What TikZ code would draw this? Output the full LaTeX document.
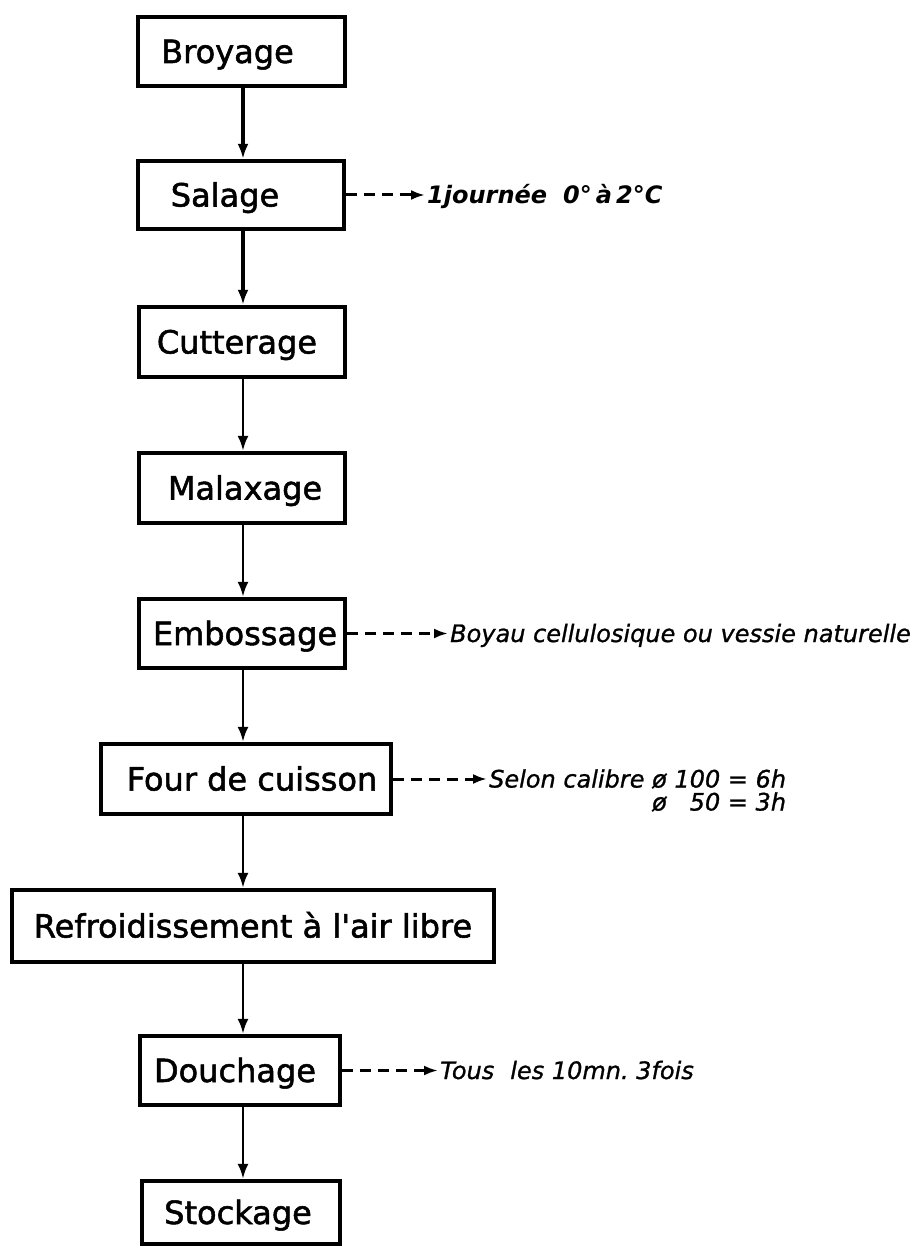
\documentclass[tikz,border=0pt]{standalone}
\usepackage{fontspec}
\setmainfont{DejaVu Sans}
\newfontfamily\stepfont{DejaVu Sans}[FakeBold=1.6]
\newfontfamily\notefont{DejaVu Sans}[FakeBold=1.0]
\usetikzlibrary{arrows.meta}
\begin{document}
\begin{tikzpicture}[x=1pt,y=-1pt,
  box/.style={draw, line width=4.4pt, inner sep=0pt},
  lbl/.style={inner sep=0pt, font=\stepfont\fontsize{32}{36}\selectfont, text height=23pt, text depth=0pt},
  note/.style={inner sep=0pt, anchor=west, font=\notefont\fontsize{24}{28}\selectfont\itshape, text height=17pt, text depth=0pt},
  flow/.style={line width=2.6pt, -{Latex[length=15pt,width=11pt]}},
  thickflow/.style={flow, line width=4pt},
  dashnote/.style={line width=3pt, dash pattern=on 11pt off 7pt, shorten >=2pt, -{Latex[length=14pt,width=10pt]}}]
\useasboundingbox[fill=white] (0,0) rectangle (923,1249);

% process steps
\node[box, minimum width=207pt, minimum height=69pt] (b1) at (241.5,51.5) {};
\node[box, minimum width=206pt, minimum height=68pt] (b2) at (241,195) {};
\node[box, minimum width=206pt, minimum height=70pt] (b3) at (242,342) {};
\node[box, minimum width=206pt, minimum height=70pt] (b4) at (242,488) {};
\node[box, minimum width=206pt, minimum height=69pt] (b5) at (242,633.5) {};
\node[box, minimum width=290pt, minimum height=70pt] (b6) at (246,779) {};
\node[box, minimum width=482pt, minimum height=72pt] (b7) at (253,926) {};
\node[box, minimum width=200pt, minimum height=69pt] (b8) at (240,1070.5) {};
\node[box, minimum width=198pt, minimum height=63pt] (b9) at (241,1212.5) {};

\node[lbl] (t1) at ([xshift=-14pt]b1.center) {Broyage};
\node[lbl] (t2) at ([xshift=-16pt]b2.center) {Salage};
\node[lbl] (t3) at ([xshift=-5pt]b3.center) {Cutterage};
\node[lbl] (t4) at ([xshift=3pt]b4.center) {Malaxage};
\node[lbl] (t5) at ([xshift=3pt]b5.center) {Embossage};
\node[lbl] (t6) at ([xshift=6pt]b6.center) {Four de cuisson};
\node[lbl] (t7) at (b7.center) {Refroidissement à l\textquotesingle air libre};
\node[lbl] (t8) at ([xshift=-5pt]b8.center) {Douchage};
\node[lbl] (t9) at ([xshift=-3pt]b9.center) {Stockage};

% main flow axis
\coordinate (axis) at (243,0);
\draw[thickflow] (axis |- b1.south) -- (axis |- b2.north);
\draw[thickflow] (axis |- b2.south) -- (axis |- b3.north);
\draw[flow] (axis |- b3.south) -- (axis |- b4.north);
\draw[flow] (axis |- b4.south) -- (axis |- b5.north);
\draw[flow] (axis |- b5.south) -- (axis |- b6.north);
\draw[flow] (axis |- b6.south) -- (axis |- b7.north);
\draw[flow] (axis |- b7.south) -- (axis |- b8.north);
\draw[flow] (axis |- b8.south) -- (axis |- b9.north);

% side notes
\node[note, font=\fontsize{24}{28}\selectfont\bfseries\itshape] (n2) at (427,195) {1journée\hspace{16pt}0°\,à\,2°C};
\node[note] (n5) at (450,633.5) {Boyau cellulosique ou vessie naturelle};
\node[note] (n6) at (489,779) {Selon calibre ø 100 = 6h};
\node[note, anchor=east] (n6b) at ([yshift=-23pt]n6.east) {ø \phantom{1}50 = 3h};
\node[note] (n8) at (440,1070.5) {Tous\hspace{16pt}les 10mn.\ 3fois};

\draw[dashnote] (b2.east) -- (n2.west);
\draw[dashnote] (b5.east) -- (n5.west);
\draw[dashnote] (b6.east) -- (n6.west);
\draw[dashnote] (b8.east) -- (n8.west);
\end{tikzpicture}
\end{document}
